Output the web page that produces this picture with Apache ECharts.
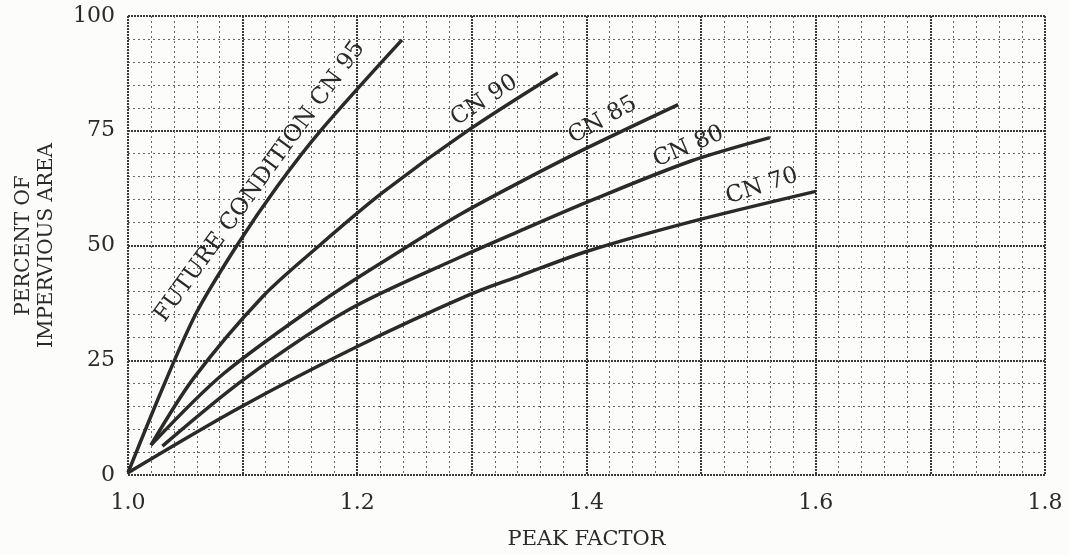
<!DOCTYPE html>
<html>
<head>
<meta charset="utf-8">
<script src="https://cdn.jsdelivr.net/npm/echarts@6.0.0/dist/echarts.min.js"></script>
<style>
  html, body { margin: 0; padding: 0; background: #fcfcfa; }
  #chart { width: 1069px; height: 555px; }
</style>
</head>
<body>
<div id="chart"></div>
<script>
// values (peak factor vs percent impervious)
var cn95X = [1.0, 1.032, 1.060, 1.095, 1.130, 1.169, 1.239];
var cn95Y = [0.5, 20, 35.5, 50, 62.8, 75.3, 94.8];

var cn90X = [1.02, 1.057, 1.118, 1.167, 1.222, 1.298, 1.375];
var cn90Y = [6.5, 21, 39, 50, 61.5, 75.3, 87.6];

var cn85X = [1.02, 1.083, 1.176, 1.24, 1.29, 1.342, 1.4, 1.48];
var cn85Y = [6.5, 22, 39, 49.2, 56.8, 63.8, 71.2, 80.7];

var cn80X = [1.03, 1.102, 1.194, 1.29, 1.342, 1.4, 1.49, 1.56];
var cn80Y = [6.3, 21, 36.2, 47.5, 53.2, 59.4, 68.3, 73.5];

var cn70X = [1.0, 1.096, 1.2, 1.3, 1.342, 1.4, 1.49, 1.6];
var cn70Y = [0.5, 14.5, 28, 39.5, 43.4, 48.7, 55.1, 61.8];

var xTickLabels = ['1.0', '1.2', '1.4', '1.6', '1.8'];
var yTickLabels = ['0', '25', '50', '75', '100'];

// curve captions: [text, x, y, angle in degrees]
var curveLabels = [
  ['FUTURE CONDITION CN 95', 1.115, 63.9, 54],
  ['CN 90', 1.311, 81.6, 33],
  ['CN 85', 1.414, 77.3, 29],
  ['CN 80', 1.489, 71.5, 23],
  ['CN 70', 1.553, 62.9, 18]
];

var FONT = '"DejaVu Serif", "Liberation Serif", serif';
var INK = '#2a2a2a';

function pairs(xs, ys) {
  return xs.map(function (x, i) { return [x, ys[i]]; });
}

function curve(name, xs, ys) {
  return {
    name: name,
    type: 'line',
    data: pairs(xs, ys),
    smooth: 0.3,
    showSymbol: false,
    lineStyle: { color: INK, width: 3.5 },
    z: 5
  };
}

var chart = echarts.init(document.getElementById('chart'));

chart.setOption({
  backgroundColor: '#fcfcfa',
  animation: false,
  grid: { left: 128, right: 24, top: 16, bottom: 78 },
  xAxis: {
    type: 'value',
    min: 1.0,
    max: 1.8,
    interval: 0.1,
    name: 'PEAK FACTOR',
    nameLocation: 'middle',
    nameGap: 54,
    nameTextStyle: { fontFamily: FONT, fontSize: 21, color: INK },
    axisLine: { show: false },
    axisTick: { show: false },
    axisLabel: {
      margin: 17,
      fontFamily: FONT,
      fontSize: 22,
      color: INK,
      formatter: function (v) {
        var s = v.toFixed(1);
        return xTickLabels.indexOf(s) >= 0 ? s : '';
      }
    },
    splitLine: { show: true, lineStyle: { color: '#3a3a3a', width: 2, type: [2, 1] } },
    minorTick: { show: false, splitNumber: 5 },
    minorSplitLine: { show: true, lineStyle: { color: '#666', width: 1, type: [2, 3] } }
  },
  yAxis: {
    type: 'value',
    min: 0,
    max: 100,
    interval: 25,
    name: 'PERCENT OF\nIMPERVIOUS AREA',
    nameLocation: 'middle',
    nameRotate: 90,
    nameGap: 70,
    nameTextStyle: { fontFamily: FONT, fontSize: 20, lineHeight: 23, color: INK },
    axisLine: { show: false },
    axisTick: { show: false },
    axisLabel: {
      margin: 13,
      fontFamily: FONT,
      fontSize: 22,
      color: INK,
      formatter: function (v) {
        var s = String(v);
        return yTickLabels.indexOf(s) >= 0 ? s : '';
      }
    },
    splitLine: { show: true, lineStyle: { color: '#3a3a3a', width: 2, type: [2, 1] } },
    minorTick: { show: false, splitNumber: 5 },
    minorSplitLine: { show: true, lineStyle: { color: '#666', width: 1, type: [2, 3] } }
  },
  series: [
    curve('CN 95', cn95X, cn95Y),
    curve('CN 90', cn90X, cn90Y),
    curve('CN 85', cn85X, cn85Y),
    curve('CN 80', cn80X, cn80Y),
    curve('CN 70', cn70X, cn70Y)
  ]
});

// place the rotated captions next to their curves
var captions = curveLabels.map(function (c) {
  var p = chart.convertToPixel({ gridIndex: 0 }, [c[1], c[2]]);
  return {
    type: 'text',
    x: p[0],
    y: p[1],
    rotation: c[3] * Math.PI / 180,
    z: 10,
    style: {
      text: c[0],
      fontFamily: FONT,
      fontSize: 23,
      fill: INK,
      align: 'center',
      verticalAlign: 'middle'
    }
  };
});
chart.setOption({ graphic: captions });
</script>
</body>
</html>
